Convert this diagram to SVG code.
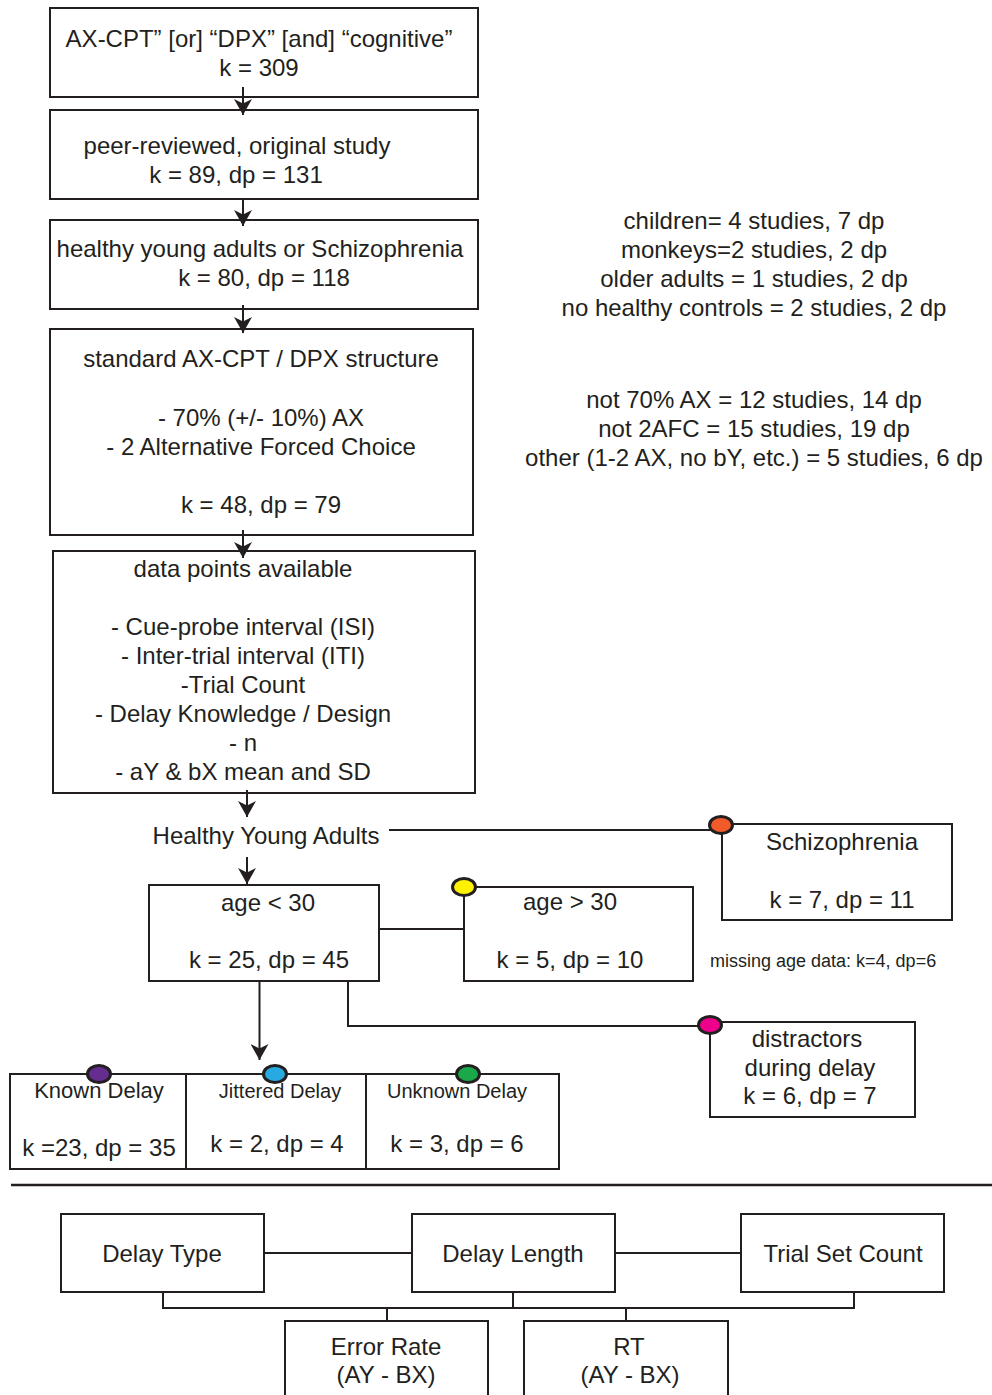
<svg xmlns="http://www.w3.org/2000/svg" width="992" height="1395" viewBox="0 0 992 1395">
<style>
text{font-family:"Liberation Sans",Arial,Helvetica,sans-serif;fill:#231f20;font-size:24px;text-anchor:middle}
.box{fill:#fff;stroke:#231f20;stroke-width:2}
.ln{fill:none;stroke:#231f20;stroke-width:2}
.dot{stroke:#231f20;stroke-width:3}
.s20{font-size:20px}
.s22{font-size:22px}
.s18{font-size:18px;text-anchor:start}
</style>
<defs>
<marker id="ah" viewBox="0 0 16 18" refX="16" refY="9" markerWidth="16" markerHeight="18" markerUnits="userSpaceOnUse" orient="auto">
<path d="M16,9 L0,0 L4.5,9 L0,18 Z" fill="#231f20"/>
</marker>
</defs>

<g id="n1"><rect class="box" x="50" y="8" width="428" height="89"/><text x="259" y="47">AX-CPT” [or] “DPX” [and] “cognitive”</text><text x="259" y="76">k = 309</text></g>
<g id="n2"><rect class="box" x="50" y="110" width="428" height="89"/><text x="237" y="154">peer-reviewed, original study</text><text x="236" y="183">k = 89, dp = 131</text></g>
<g id="n3"><rect class="box" x="50" y="220" width="428" height="89"/><text x="260" y="257">healthy young adults or Schizophrenia</text><text x="264" y="286">k = 80, dp = 118</text></g>
<g id="n4"><rect class="box" x="50" y="329" width="423" height="206"/><text x="261" y="367">standard AX-CPT / DPX structure</text><text x="261" y="426">- 70% (+/- 10%) AX</text><text x="261" y="455">- 2 Alternative Forced Choice</text><text x="261" y="513">k = 48, dp = 79</text></g>
<g id="n5"><rect class="box" x="53" y="551" width="422" height="242"/><text x="243" y="577">data points available</text><text x="243" y="635">- Cue-probe interval (ISI)</text><text x="243" y="664">- Inter-trial interval (ITI)</text><text x="243" y="693">-Trial Count</text><text x="243" y="722">- Delay Knowledge / Design</text><text x="243" y="751">- n</text><text x="243" y="780">- aY &amp; bX mean and SD</text></g>

<g id="excl1"><text x="754" y="229">children= 4 studies, 7 dp</text><text x="754" y="258">monkeys=2 studies, 2 dp</text><text x="754" y="287">older adults = 1 studies, 2 dp</text><text x="754" y="316">no healthy controls = 2 studies, 2 dp</text></g>
<g id="excl2"><text x="754" y="408">not 70% AX = 12 studies, 14 dp</text><text x="754" y="437">not 2AFC = 15 studies, 19 dp</text><text x="754" y="466">other (1-2 AX, no bY, etc.) = 5 studies, 6 dp</text></g>

<g id="connectors">
<line class="ln" x1="243" y1="87" x2="243" y2="115" marker-end="url(#ah)"/>
<line class="ln" x1="243" y1="199" x2="243" y2="226" marker-end="url(#ah)"/>
<line class="ln" x1="243" y1="305" x2="243" y2="333" marker-end="url(#ah)"/>
<line class="ln" x1="243" y1="530" x2="243" y2="558" marker-end="url(#ah)"/>
<line class="ln" x1="247" y1="790" x2="247" y2="817" marker-end="url(#ah)"/>
<line class="ln" x1="247" y1="857" x2="247" y2="884" marker-end="url(#ah)"/>
<line class="ln" x1="259.5" y1="981" x2="259.5" y2="1060" marker-end="url(#ah)"/>
<polyline class="ln" points="389,830 712,830"/>
<polyline class="ln" points="379,929 464,929"/>
<polyline class="ln" points="348,981 348,1026 702,1026"/>
<polyline class="ln" points="264,1253 412,1253"/>
<polyline class="ln" points="615,1253 741,1253"/>
<polyline class="ln" points="163,1292 163,1308 854,1308 854,1291"/>
<line class="ln" x1="513" y1="1292" x2="513" y2="1308"/>
<line class="ln" x1="387" y1="1308" x2="387" y2="1321"/>
<line class="ln" x1="626" y1="1308" x2="626" y2="1321"/>
</g>

<g id="hya"><text x="266" y="844">Healthy Young Adults</text></g>
<g id="schiz"><rect class="box" x="722" y="824" width="230" height="96"/><ellipse class="dot" cx="721" cy="825" rx="11.5" ry="8.5" fill="#f15a29"/><text x="842" y="850">Schizophrenia</text><text x="842" y="908">k = 7, dp = 11</text></g>
<g id="young"><rect class="box" x="149" y="885" width="230" height="96"/><text x="268" y="911">age &lt; 30</text><text x="269" y="968">k = 25, dp = 45</text></g>
<g id="old"><rect class="box" x="464" y="887" width="229" height="94"/><ellipse class="dot" cx="464" cy="887" rx="11.5" ry="8.5" fill="#fff200"/><text x="570" y="910">age &gt; 30</text><text x="570" y="968">k = 5, dp = 10</text></g>
<g id="missing"><text class="s18" x="710" y="967">missing age data: k=4, dp=6</text></g>
<g id="distr"><rect class="box" x="710" y="1022" width="205" height="95"/><ellipse class="dot" cx="710" cy="1025" rx="11.5" ry="8.5" fill="#ec008c"/><text x="807" y="1047">distractors</text><text x="810" y="1076">during delay</text><text x="810" y="1104">k = 6, dp = 7</text></g>

<g id="known"><rect class="box" x="10" y="1074" width="176" height="95"/><ellipse class="dot" cx="99" cy="1074" rx="11.5" ry="8.5" fill="#662d91"/><text class="s22" x="99" y="1098">Known Delay</text><text x="99" y="1156">k =23, dp = 35</text></g>
<g id="jitter"><rect class="box" x="186" y="1074" width="180" height="95"/><ellipse class="dot" cx="275" cy="1074" rx="11.5" ry="8.5" fill="#27aae1"/><text class="s20" x="280" y="1098">Jittered Delay</text><text x="277" y="1152">k = 2, dp = 4</text></g>
<g id="unknown"><rect class="box" x="366" y="1074" width="193" height="95"/><ellipse class="dot" cx="468" cy="1074" rx="11.5" ry="8.5" fill="#1ba84a"/><text class="s20" x="457" y="1098">Unknown Delay</text><text x="457" y="1152">k = 3, dp = 6</text></g>

<line x1="11" y1="1185" x2="992" y2="1185" stroke="#231f20" stroke-width="2.5"/>

<g id="dtype"><rect class="box" x="61" y="1214" width="203" height="78"/><text x="162" y="1262">Delay Type</text></g>
<g id="dlen"><rect class="box" x="412" y="1214" width="203" height="78"/><text x="513" y="1262">Delay Length</text></g>
<g id="tsc"><rect class="box" x="741" y="1214" width="203" height="78"/><text x="843" y="1262">Trial Set Count</text></g>
<g id="err"><rect class="box" x="285" y="1321" width="203" height="90"/><text x="386" y="1355">Error Rate</text><text x="386" y="1383">(AY - BX)</text></g>
<g id="rt"><rect class="box" x="524" y="1321" width="204" height="90"/><text x="629" y="1355">RT</text><text x="630" y="1383">(AY - BX)</text></g>
</svg>
